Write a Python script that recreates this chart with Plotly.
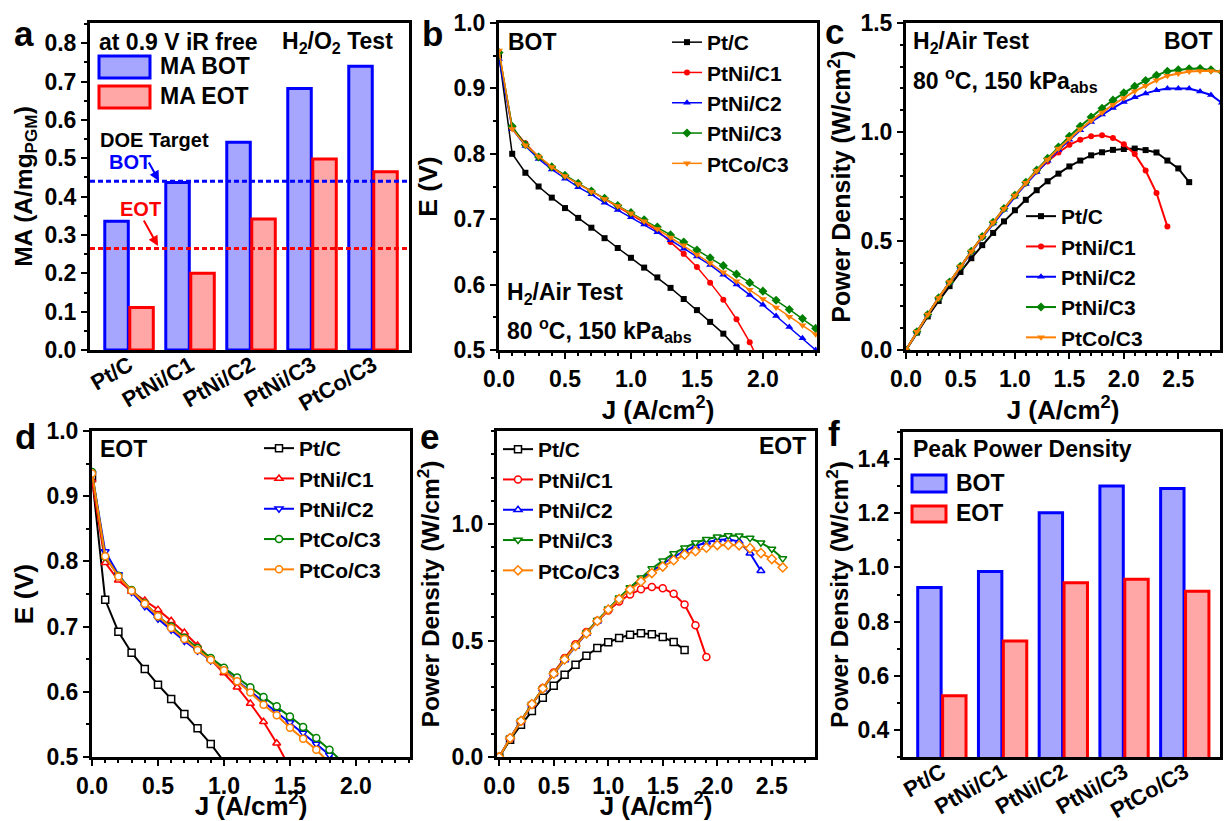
import plotly.graph_objects as go

W, H = 1224, 821
FONT = "Liberation Sans, Arial, sans-serif"

# ---------------- data ----------------
categories = ["Pt/C", "PtNi/C1", "PtNi/C2", "PtNi/C3", "PtCo/C3"]
ma_bot = [0.336, 0.437, 0.542, 0.682, 0.740]
ma_eot = [0.111, 0.200, 0.342, 0.498, 0.465]
doe_target_bot = 0.44
doe_target_eot = 0.265
ppd_bot = [0.926, 0.985, 1.202, 1.301, 1.291]
ppd_eot = [0.526, 0.728, 0.943, 0.956, 0.912]

J = [0.0, 0.1, 0.2, 0.3, 0.4, 0.5, 0.6, 0.7, 0.8, 0.9,
     1.0, 1.1, 1.2, 1.3, 1.4, 1.5, 1.6, 1.7, 1.8, 1.9,
     2.0, 2.1, 2.2, 2.3, 2.4, 2.5, 2.6, 2.7, 2.8, 2.9]

# BOT polarization (E, V)
e_bot_ptc = [0.950, 0.800, 0.771, 0.750, 0.733, 0.717, 0.702, 0.687, 0.671, 0.656, 0.641, 0.626, 0.611, 0.595,
             0.578, 0.561, 0.543, 0.525, 0.504, 0.483, 0.461, 0.440, 0.417, 0.394, 0.362, 0.333, 0.296]
e_bot_ptni1 = [0.955, 0.840, 0.816, 0.795, 0.779, 0.766, 0.754, 0.743, 0.731, 0.720, 0.707, 0.695, 0.683, 0.665,
               0.647, 0.627, 0.603, 0.577, 0.547, 0.512, 0.472, 0.428, 0.374, 0.313, 0.236]
e_bot_ptni2 = [0.945, 0.838, 0.812, 0.792, 0.776, 0.762, 0.749, 0.738, 0.725, 0.714, 0.703, 0.692, 0.680, 0.668,
               0.655, 0.643, 0.630, 0.615, 0.600, 0.584, 0.569, 0.552, 0.535, 0.518, 0.500, 0.480, 0.461, 0.439,
               0.418, 0.391]
e_bot_ptni3 = [0.955, 0.842, 0.814, 0.795, 0.780, 0.767, 0.755, 0.743, 0.732, 0.721, 0.710, 0.699, 0.688, 0.676,
               0.665, 0.653, 0.641, 0.629, 0.616, 0.603, 0.590, 0.576, 0.562, 0.548, 0.533, 0.514, 0.496, 0.478,
               0.459, 0.440]
e_bot_ptco3 = [0.958, 0.838, 0.813, 0.796, 0.780, 0.766, 0.754, 0.742, 0.731, 0.720, 0.709, 0.697, 0.685, 0.672,
               0.660, 0.646, 0.633, 0.619, 0.605, 0.592, 0.578, 0.565, 0.551, 0.538, 0.524, 0.507, 0.491, 0.474,
               0.457, 0.440]

# BOT power density (W/cm2)
p_bot_ptc = [0.0, 0.080, 0.154, 0.225, 0.293, 0.358, 0.421, 0.481, 0.537, 0.590, 0.641, 0.689, 0.733, 0.774,
             0.809, 0.842, 0.869, 0.893, 0.907, 0.918, 0.922, 0.924, 0.917, 0.906, 0.869, 0.833, 0.770]
p_bot_ptni1 = [0.0, 0.084, 0.163, 0.239, 0.312, 0.383, 0.452, 0.520, 0.585, 0.648, 0.707, 0.765, 0.819, 0.865,
               0.906, 0.941, 0.965, 0.981, 0.985, 0.973, 0.944, 0.899, 0.823, 0.720, 0.566]
p_bot_ptni2 = [0.0, 0.084, 0.162, 0.238, 0.310, 0.381, 0.449, 0.516, 0.580, 0.643, 0.703, 0.761, 0.816, 0.868,
               0.917, 0.964, 1.008, 1.046, 1.080, 1.110, 1.138, 1.159, 1.177, 1.191, 1.200, 1.200, 1.199, 1.186,
               1.170, 1.134]
p_bot_ptni3 = [0.0, 0.084, 0.163, 0.239, 0.312, 0.384, 0.453, 0.520, 0.586, 0.649, 0.710, 0.769, 0.826, 0.879,
               0.931, 0.980, 1.026, 1.069, 1.109, 1.146, 1.180, 1.210, 1.236, 1.260, 1.279, 1.285, 1.290, 1.291,
               1.285, 1.276]
p_bot_ptco3 = [0.0, 0.084, 0.163, 0.239, 0.312, 0.383, 0.452, 0.519, 0.585, 0.648, 0.709, 0.767, 0.822, 0.874,
               0.924, 0.969, 1.013, 1.052, 1.089, 1.125, 1.156, 1.187, 1.212, 1.237, 1.258, 1.268, 1.277, 1.280,
               1.280, 1.276]

# EOT polarization (E, V)
e_eot_ptc = [0.930, 0.741, 0.692, 0.660, 0.635, 0.611, 0.589, 0.566, 0.544, 0.520, 0.493, 0.464, 0.438, 0.408,
             0.376, 0.343, 0.309, 0.271]
e_eot_ptni1 = [0.925, 0.798, 0.771, 0.754, 0.740, 0.726, 0.709, 0.691, 0.671, 0.650, 0.629, 0.607, 0.582, 0.554,
               0.521, 0.483, 0.438, 0.385, 0.314, 0.226]
e_eot_ptni2 = [0.935, 0.815, 0.780, 0.753, 0.731, 0.712, 0.695, 0.678, 0.663, 0.648, 0.634, 0.617, 0.601, 0.585,
               0.569, 0.553, 0.537, 0.520, 0.503, 0.485, 0.466, 0.445, 0.420, 0.380, 0.333]
e_eot_green = [0.937, 0.807, 0.778, 0.756, 0.736, 0.716, 0.700, 0.683, 0.667, 0.652, 0.637, 0.622, 0.607, 0.592,
               0.578, 0.562, 0.546, 0.529, 0.511, 0.492, 0.473, 0.453, 0.432, 0.409, 0.384, 0.357, 0.328]
e_eot_ptco3 = [0.935, 0.808, 0.777, 0.755, 0.735, 0.716, 0.698, 0.681, 0.664, 0.649, 0.633, 0.616, 0.599, 0.580,
               0.564, 0.545, 0.528, 0.511, 0.491, 0.473, 0.455, 0.434, 0.413, 0.390, 0.365, 0.340, 0.313]

# EOT power density (W/cm2)
p_eot_ptc = [0.0, 0.074, 0.138, 0.198, 0.254, 0.306, 0.353, 0.396, 0.435, 0.468, 0.493, 0.511, 0.525, 0.531,
             0.527, 0.515, 0.494, 0.460]
p_eot_ptni1 = [0.0, 0.080, 0.154, 0.226, 0.296, 0.363, 0.425, 0.484, 0.537, 0.585, 0.629, 0.668, 0.698, 0.720,
               0.730, 0.725, 0.701, 0.655, 0.566, 0.429]
p_eot_ptni2 = [0.0, 0.082, 0.156, 0.226, 0.292, 0.356, 0.417, 0.475, 0.530, 0.583, 0.634, 0.679, 0.721, 0.761,
               0.797, 0.830, 0.859, 0.884, 0.905, 0.922, 0.932, 0.935, 0.925, 0.875, 0.800]
p_eot_ptni3 = [0.0, 0.081, 0.156, 0.227, 0.294, 0.358, 0.420, 0.478, 0.534, 0.587, 0.637, 0.684, 0.728, 0.770,
               0.809, 0.843, 0.874, 0.899, 0.920, 0.935, 0.946, 0.951, 0.950, 0.940, 0.920, 0.893, 0.852]
p_eot_ptco3 = [0.0, 0.081, 0.155, 0.227, 0.294, 0.358, 0.419, 0.477, 0.531, 0.584, 0.633, 0.678, 0.719, 0.754,
               0.790, 0.818, 0.845, 0.869, 0.884, 0.899, 0.910, 0.911, 0.909, 0.897, 0.876, 0.850, 0.814]

# ---------------- style ----------------
BLACK, RED, BLUE, GREEN, ORANGE = "#000000", "#FF0000", "#0000FF", "#008000", "#FF8000"
BLUE_FILL, RED_FILL = "#A6A6FF", "#FFA6A6"


def px(x):
    return x / W


def py(y):
    return 1 - y / H


fig = go.Figure()

# ---- panel a: bars ----
fig.add_trace(go.Bar(x=categories, y=ma_bot, name="MA BOT", xaxis="x", yaxis="y", showlegend=False,
                     marker=dict(color=BLUE_FILL, line=dict(color=BLUE, width=3))))
fig.add_trace(go.Bar(x=categories, y=ma_eot, name="MA EOT", xaxis="x", yaxis="y", showlegend=False,
                     marker=dict(color=RED_FILL, line=dict(color=RED, width=3))))

# ---- panel f: bars ----
fig.add_trace(go.Bar(x=categories, y=ppd_bot, name="BOT", xaxis="x6", yaxis="y6", showlegend=False,
                     marker=dict(color=BLUE_FILL, line=dict(color=BLUE, width=3))))
fig.add_trace(go.Bar(x=categories, y=ppd_eot, name="EOT", xaxis="x6", yaxis="y6", showlegend=False,
                     marker=dict(color=RED_FILL, line=dict(color=RED, width=3))))

names = ["Pt/C", "PtNi/C1", "PtNi/C2", "PtNi/C3", "PtCo/C3"]
colors = [BLACK, RED, BLUE, GREEN, ORANGE]

# ---- panel b & c: BOT ----
bot_E = [e_bot_ptc, e_bot_ptni1, e_bot_ptni2, e_bot_ptni3, e_bot_ptco3]
bot_P = [p_bot_ptc, p_bot_ptni1, p_bot_ptni2, p_bot_ptni3, p_bot_ptco3]
bot_sym = ["square", "circle", "triangle-up", "diamond", "triangle-down"]
bot_size = [6, 6, 7, 7, 7]
for nm, ev, col, sym, sz in zip(names, bot_E, colors, bot_sym, bot_size):
    fig.add_trace(go.Scatter(x=J[:len(ev)], y=ev, name=nm, mode="lines+markers", xaxis="x2", yaxis="y2",
                             legend="legend2", line=dict(color=col, width=1.5),
                             marker=dict(symbol=sym, size=sz, color=col)))
for nm, pv, col, sym, sz in zip(names, bot_P, colors, bot_sym, bot_size):
    fig.add_trace(go.Scatter(x=J[:len(pv)], y=pv, name=nm, mode="lines+markers", xaxis="x3", yaxis="y3",
                             legend="legend3", line=dict(color=col, width=2),
                             marker=dict(symbol=sym, size=sz, color=col)))

# ---- panel d: EOT polarization ----
d_names = ["Pt/C", "PtNi/C1", "PtNi/C2", "PtCo/C3", "PtCo/C3"]
eot_E = [e_eot_ptc, e_eot_ptni1, e_eot_ptni2, e_eot_green, e_eot_ptco3]
d_sym = ["square", "triangle-up", "triangle-down", "circle", "circle"]
for nm, ev, col, sym in zip(d_names, eot_E, colors, d_sym):
    fig.add_trace(go.Scatter(x=J[:len(ev)], y=ev, name=nm, mode="lines+markers", xaxis="x4", yaxis="y4",
                             legend="legend4", line=dict(color=col, width=2),
                             marker=dict(symbol=sym, size=7, color="white", line=dict(color=col, width=1.5))))

# ---- panel e: EOT power ----
eot_P = [p_eot_ptc, p_eot_ptni1, p_eot_ptni2, p_eot_ptni3, p_eot_ptco3]
e_sym = ["square", "circle", "triangle-up", "triangle-down", "diamond"]
for nm, pv, col, sym in zip(names, eot_P, colors, e_sym):
    fig.add_trace(go.Scatter(x=J[:len(pv)], y=pv, name=nm, mode="lines+markers", xaxis="x5", yaxis="y5",
                             legend="legend5", line=dict(color=col, width=2),
                             marker=dict(symbol=sym, size=7, color="white", line=dict(color=col, width=1.5))))

# ---------------- axes ----------------
TICKF = dict(family=FONT, size=23, color="black", weight="bold")


def tf(size):
    return dict(family=FONT, size=size, color="black", weight="bold")


def axis(domain, rng, title=None, dtick=None, minor=None, standoff=6, fmt=".1f", anchor=None, tsize=26, **kw):
    d = dict(domain=domain, range=rng, showline=True, linecolor="black", linewidth=3, mirror=True,
             ticks="outside", ticklen=6, tickwidth=2, tickcolor="black", showgrid=False, zeroline=False,
             tickfont=TICKF, anchor=anchor, automargin=False)
    if dtick is not None:
        d.update(dtick=dtick, tick0=0, tickformat=fmt)
    if minor is not None:
        d["minor"] = dict(dtick=minor, ticks="outside", ticklen=3, tickwidth=2, tickcolor="black", showgrid=False)
    if title:
        d["title"] = dict(text=title, font=tf(tsize), standoff=standoff)
    d.update(kw)
    return d


J_T = "J (A/cm<sup>2</sup>)"
PD_T = "Power Density (W/cm<sup>2</sup>)"

# panel rectangles (pixels)
pa = dict(x=[90, 409], y=[23, 350])
pb = dict(x=[499, 817], y=[23, 350])
pc = dict(x=[906, 1220], y=[23, 350])
pd_ = dict(x=[92, 410], y=[431, 757])
pe = dict(x=[497, 815], y=[431, 757])
pf = dict(x=[903, 1220], y=[432, 757])


def dx(p):
    return [px(p["x"][0]), px(p["x"][1])]


def dy(p):
    return [py(p["y"][1]), py(p["y"][0])]


CATF = dict(family=FONT, size=22, color="black", weight="bold")

layout = dict(
    template="none",
    width=W, height=H, margin=dict(l=0, r=0, t=0, b=0, autoexpand=False), paper_bgcolor="white",
    plot_bgcolor="white",
    barmode="group", bargap=0.18, bargroupgap=0.06, font=dict(family=FONT, color="black"),
    xaxis=axis(dx(pa), [-0.64, 4.59], anchor="y", type="category", ticks="", tickangle=-30, tickfont=CATF,
               ticklabelstandoff=-9),
    yaxis=axis(dy(pa), [0, 0.853], "MA (A/mg<sub>PGM</sub>)", 0.1, 0.05, anchor="x", standoff=5, tsize=24.5),
    xaxis2=axis(dx(pb), [0, 2.41], J_T, 0.5, 0.1, anchor="y2", standoff=3),
    yaxis2=axis(dy(pb), [0.5, 1.0], "E (V)", 0.1, 0.05, anchor="x2", standoff=9, tsize=26.5),
    xaxis3=axis(dx(pc), [0, 2.883], J_T, 0.5, 0.1, anchor="y3", standoff=3),
    yaxis3=axis(dy(pc), [0, 1.5], PD_T, 0.5, 0.1, anchor="x3", standoff=3, tsize=25),
    xaxis4=axis(dx(pd_), [0, 2.41], J_T, 0.5, 0.1, anchor="y4", standoff=8),
    yaxis4=axis(dy(pd_), [0.5, 1.0], "E (V)", 0.1, 0.05, anchor="x4", standoff=6, tsize=26.5),
    xaxis5=axis(dx(pe), [-0.02, 2.896], J_T, 0.5, 0.1, anchor="y5", standoff=8),
    yaxis5=axis(dy(pe), [0, 1.40], PD_T, 0.5, 0.1, anchor="x5", standoff=5, tsize=24.5),
    xaxis6=axis(dx(pf), [-0.64, 4.58], anchor="y6", type="category", ticks="", tickangle=-30, tickfont=CATF,
                ticklabelstandoff=-9),
    yaxis6=axis(dy(pf), [0.3, 1.5], PD_T, 0.2, 0.1, anchor="x6", standoff=2, tsize=24.5),
)

LEGF = dict(family=FONT, size=21, color="black", weight="bold")


def leg(xl, ytop):
    return dict(x=px(xl), y=py(ytop), xanchor="left", yanchor="top", bgcolor="rgba(0,0,0,0)",
                borderwidth=0, font=LEGF, itemwidth=30, tracegroupgap=0)


layout["legend2"] = leg(667, 22)
layout["legend3"] = leg(1021, 196)
layout["legend4"] = leg(259, 428)
layout["legend5"] = leg(498, 429)
fig.update_layout(**layout)

# ---------------- annotations ----------------
ann = []


def text(x, y, s, size=23, color="black", xanchor="left"):
    ann.append(dict(x=px(x), y=py(y), xref="paper", yref="paper", text=s, showarrow=False,
                    xanchor=xanchor, yanchor="middle",
                    font=dict(family=FONT, size=size, color=color, weight="bold")))


# panel letters
for lt, x, y in [("a", 24, 33), ("b", 432, 33), ("c", 834, 31), ("d", 25, 436), ("e", 430, 436), ("f", 834, 433)]:
    ann.append(dict(x=px(x), y=py(y), xref="paper", yref="paper", text=lt, showarrow=False,
                    xanchor="center", yanchor="middle", font=dict(family=FONT, size=35, color="black", weight="bold")))

# a
text(97, 42, "at 0.9 V iR free")
text(280, 42, "H<sub>2</sub>/O<sub>2</sub> Test")
text(158, 66, "MA BOT")
text(158, 96, "MA EOT")
text(98, 140, "DOE Target", size=20)
text(107, 162, "BOT", size=20, color=BLUE)
text(118, 209, "EOT", size=20, color=RED)
ann.append(dict(x=px(159), y=py(181), xref="paper", yref="paper", ax=-11, ay=-20, text="", showarrow=True,
                arrowhead=2, arrowsize=1, arrowwidth=2, arrowcolor=BLUE))
ann.append(dict(x=px(158), y=py(246), xref="paper", yref="paper", ax=-15, ay=-27, text="", showarrow=True,
                arrowhead=2, arrowsize=1, arrowwidth=2, arrowcolor=RED))
# b
text(506, 42, "BOT")
text(505, 293, "H<sub>2</sub>/Air Test")
text(505, 330, "80 <sup>o</sup>C, 150 kPa<sub>abs</sub>")
# c
text(911, 42, "H<sub>2</sub>/Air Test")
text(911, 80, "80 <sup>o</sup>C, 150 kPa<sub>abs</sub>")
text(1215, 41, "BOT", xanchor="right")
# d, e
text(98, 449, "EOT")
text(808, 446, "EOT", xanchor="right")
# f
text(911, 449, "Peak Power Density")
text(954, 483, "BOT")
text(954, 513, "EOT")

fig.update_layout(annotations=ann)

# ---------------- shapes (DOE lines, bar legend swatches) ----------------
shapes = [
    dict(type="line", xref="x domain", yref="y", x0=0, x1=1, y0=doe_target_bot, y1=doe_target_bot,
         line=dict(color=BLUE, width=3, dash="5px,3px")),
    dict(type="line", xref="x domain", yref="y", x0=0, x1=1, y0=doe_target_eot, y1=doe_target_eot,
         line=dict(color=RED, width=3, dash="5px,3px")),
]


def swatch(x0, x1, y0, y1, fill, line):
    shapes.append(dict(type="rect", xref="paper", yref="paper", x0=px(x0), x1=px(x1), y0=py(y1), y1=py(y0),
                       fillcolor=fill, line=dict(color=line, width=3)))


swatch(99, 150, 56, 78, BLUE_FILL, BLUE)
swatch(99, 150, 86, 108, RED_FILL, RED)
swatch(912, 946, 475, 492, BLUE_FILL, BLUE)
swatch(912, 946, 506, 522, RED_FILL, RED)
fig.update_layout(shapes=shapes)

fig.write_html("out.html", config={"displayModeBar": False},
               post_script="document.body.style.margin='0';document.body.style.overflow='hidden';")
